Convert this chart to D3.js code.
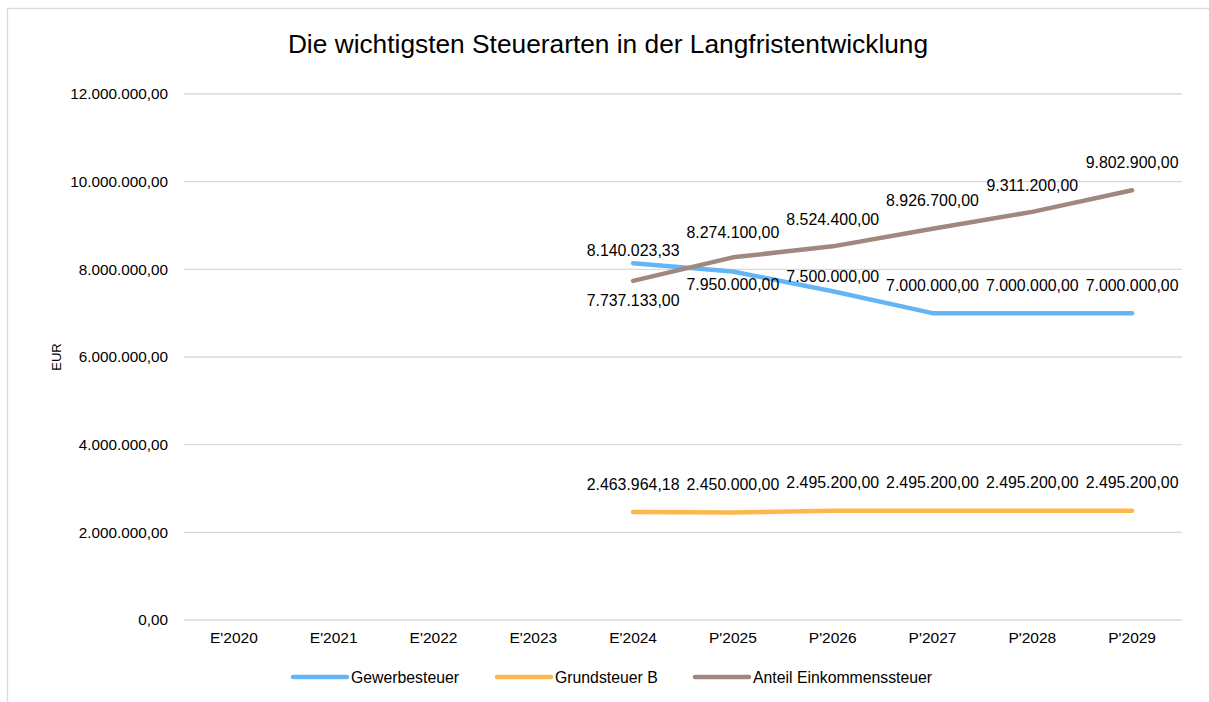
<!DOCTYPE html>
<html>
<head>
  <meta charset="utf-8">
  <script src="https://cdn.jsdelivr.net/npm/d3@7"></script>
  <style>
    body { margin: 0; background: #fff; }
    text { font-family: "Liberation Sans", Arial, sans-serif; fill: #000; }
    .grid line { stroke: #d9d9d9; stroke-width: 1.3; }
  </style>
</head>
<body>
<script>
  // categories and series values
  var years = ["E'2020", "E'2021", "E'2022", "E'2023", "E'2024", "P'2025", "P'2026", "P'2027", "P'2028", "P'2029"];
  var gewerbesteuer = [null, null, null, null, 8140023.33, 7950000, 7500000, 7000000, 7000000, 7000000];
  var grundsteuerB = [null, null, null, null, 2463964.18, 2450000, 2495200, 2495200, 2495200, 2495200];
  var anteilESt = [null, null, null, null, 7737133, 8274100, 8524400, 8926700, 9311200, 9802900];
  var yTicks = [0, 2000000, 4000000, 6000000, 8000000, 10000000, 12000000];

  // data label offsets (label centre relative to the point, px)
  var gewerbeLabelDy = [0, 0, 0, 0, -13, 13, -15, -28, -28, -28];
  var grundLabelDy = [0, 0, 0, 0, -28, -28, -28, -28, -28, -28];
  var anteilLabelDy = [0, 0, 0, 0, 20, -25, -27, -28, -26, -28];

  var series = [
    { name: "Gewerbesteuer", values: gewerbesteuer, color: "#64b5f6", dy: gewerbeLabelDy },
    { name: "Grundsteuer B", values: grundsteuerB, color: "#ffb74d", dy: grundLabelDy },
    { name: "Anteil Einkommenssteuer", values: anteilESt, color: "#a1887f", dy: anteilLabelDy }
  ];

  var width = 1209, height = 702;
  var plot = { left: 184, right: 1182, top: 94, bottom: 620 };

  var de = d3.formatLocale({ decimal: ",", thousands: ".", grouping: [3], currency: ["", " €"] });
  var fmt = de.format(",.2f");

  var svg = d3.select("body").append("svg")
    .attr("width", width)
    .attr("height", height);

  // chart border
  svg.append("rect")
    .attr("x", 7.5).attr("y", 8.5)
    .attr("width", 1210).attr("height", 710)
    .attr("fill", "#fff")
    .attr("stroke", "#d9d9d9")
    .attr("stroke-width", 1.3);

  svg.append("text")
    .attr("x", 608).attr("y", 53)
    .attr("text-anchor", "middle")
    .style("font-size", "26.3px")
    .text("Die wichtigsten Steuerarten in der Langfristentwicklung");

  var x = d3.scaleBand()
    .domain(years)
    .range([plot.left, plot.right]);

  var y = d3.scaleLinear()
    .domain([0, 12000000])
    .range([plot.bottom, plot.top]);

  // gridlines
  svg.append("g")
    .attr("class", "grid")
    .selectAll("line")
    .data(yTicks)
    .enter().append("line")
    .attr("x1", plot.left).attr("x2", plot.right)
    .attr("y1", function(d) { return y(d); })
    .attr("y2", function(d) { return y(d); });

  // y axis
  var yAxis = svg.append("g")
    .attr("transform", "translate(" + (plot.left - 13) + ",0)")
    .call(d3.axisLeft(y).tickValues(yTicks).tickSize(0).tickFormat(fmt));
  yAxis.select(".domain").remove();
  yAxis.selectAll("text").style("font-size", "15.3px");

  // x axis
  var xAxis = svg.append("g")
    .attr("transform", "translate(0," + plot.bottom + ")")
    .call(d3.axisBottom(x).tickSize(0));
  xAxis.select(".domain").remove();
  xAxis.selectAll("text").style("font-size", "15.5px").attr("y", 23).attr("dy", 0);

  svg.append("text")
    .attr("transform", "translate(61," + ((plot.top + plot.bottom) / 2) + ") rotate(-90)")
    .attr("text-anchor", "middle")
    .style("font-size", "13px")
    .text("EUR");

  var line = d3.line()
    .defined(function(d) { return d != null; })
    .x(function(d, i) { return x(years[i]) + x.bandwidth() / 2; })
    .y(function(d) { return y(d); });

  series.forEach(function(s) {
    svg.append("path")
      .datum(s.values)
      .attr("fill", "none")
      .attr("stroke", s.color)
      .attr("stroke-width", 4.5)
      .attr("stroke-linejoin", "round")
      .attr("stroke-linecap", "round")
      .attr("d", line);
  });

  series.forEach(function(s) {
    svg.append("g")
      .selectAll("text")
      .data(s.values.map(function(v, i) { return { v: v, i: i }; })
        .filter(function(d) { return d.v != null; }))
      .enter().append("text")
      .attr("x", function(d) { return x(years[d.i]) + x.bandwidth() / 2; })
      .attr("y", function(d) { return y(d.v) + s.dy[d.i]; })
      .attr("dy", "0.35em")
      .attr("text-anchor", "middle")
      .style("font-size", "15.9px")
      .text(function(d) { return fmt(d.v); });
  });

  // legend
  var legendX = [293, 497, 695];
  var legend = svg.append("g");
  series.forEach(function(s, i) {
    legend.append("line")
      .attr("x1", legendX[i]).attr("x2", legendX[i] + 54)
      .attr("y1", 677).attr("y2", 677)
      .attr("stroke", s.color)
      .attr("stroke-width", 4.5)
      .attr("stroke-linecap", "round");
    legend.append("text")
      .attr("x", legendX[i] + 58).attr("y", 683)
      .style("font-size", "15.8px")
      .text(s.name);
  });
</script>
</body>
</html>
